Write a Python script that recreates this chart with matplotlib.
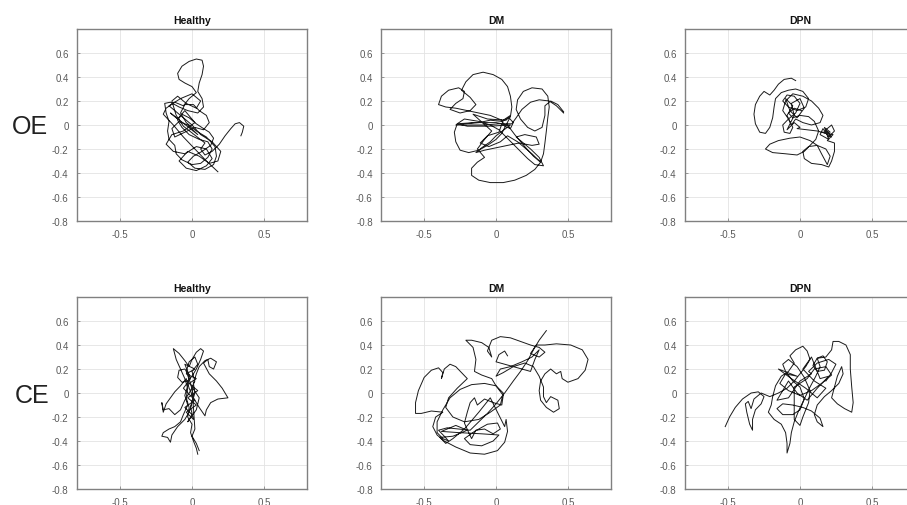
import matplotlib
matplotlib.use("Agg")
import matplotlib.pyplot as plt

plt.rcParams["font.family"] = ["Liberation Sans", "DejaVu Sans"]

groups = ["Healthy", "DM", "DPN"]
conditions = ["OE", "CE"]

x_ticks = [-0.5, 0, 0.5]
x_tick_labels = ["-0.5", "0", "0.5"]
y_ticks = [-0.8, -0.6, -0.4, -0.2, 0, 0.2, 0.4, 0.6]
y_tick_labels = ["-0.8", "-0.6", "-0.4", "-0.2", "0", "0.2", "0.4", "0.6"]

# Centre-of-pressure sway paths (x, y), eyes open
healthy_oe = [
    (0.18, -0.39), (0.10, -0.30), (0.02, -0.20), (-0.06, -0.10), (-0.13, 0.00), (-0.20, 0.09),
    (-0.18, 0.14), (-0.12, 0.19), (-0.06, 0.16), (-0.02, 0.22), (0.03, 0.27), (0.00, 0.32),
    (-0.05, 0.35), (-0.09, 0.38), (-0.10, 0.43), (-0.07, 0.49), (-0.02, 0.53), (0.03, 0.55),
    (0.07, 0.54), (0.08, 0.49), (0.07, 0.42), (0.05, 0.35), (0.04, 0.28), (0.07, 0.22),
    (0.08, 0.15), (0.04, 0.10), (-0.03, 0.12), (-0.09, 0.15), (-0.15, 0.19), (-0.19, 0.18),
    (-0.18, 0.10), (-0.16, 0.03), (-0.17, -0.05), (-0.16, -0.12), (-0.12, -0.17), (-0.11, -0.24),
    (-0.07, -0.29), (0.00, -0.33), (0.06, -0.32), (0.11, -0.27), (0.14, -0.20), (0.11, -0.14),
    (0.05, -0.12), (-0.02, -0.08), (-0.07, -0.02), (-0.10, 0.04), (-0.07, 0.09), (-0.02, 0.06),
    (0.03, 0.01), (0.08, -0.03), (0.12, -0.06), (0.15, -0.11), (0.13, -0.17), (0.07, -0.22),
    (0.01, -0.26), (-0.03, -0.31), (0.02, -0.36), (0.09, -0.37), (0.15, -0.33), (0.17, -0.26),
    (0.16, -0.18), (0.10, -0.10), (0.03, -0.05), (-0.04, 0.02), (-0.08, 0.10), (-0.05, 0.17),
    (0.01, 0.17), (0.05, 0.12), (0.10, 0.08), (0.12, 0.02), (0.08, -0.04), (0.02, -0.02),
    (-0.05, -0.06), (-0.12, -0.10), (-0.14, -0.03), (-0.09, 0.03), (-0.03, 0.00), (0.04, -0.08),
    (-0.15, 0.10), (-0.10, 0.05), (-0.05, 0.12), (0.02, 0.02), (-0.06, -0.05), (-0.14, -0.08),
    (-0.18, -0.16), (-0.13, -0.22), (-0.05, -0.24), (0.03, -0.18), (0.10, -0.20), (0.14, -0.28),
    (0.10, -0.34), (0.03, -0.38), (-0.04, -0.36), (-0.09, -0.30), (-0.03, -0.22), (0.05, -0.26),
    (0.12, -0.32), (0.18, -0.30), (0.20, -0.22), (0.14, -0.14), (0.06, -0.08), (0.00, 0.00),
    (-0.06, 0.06), (-0.12, 0.12), (-0.16, 0.16), (-0.08, 0.22), (0.00, 0.26), (0.06, 0.20),
    (0.03, 0.14), (-0.04, 0.18), (-0.10, 0.24), (-0.14, 0.20), (-0.11, 0.08), (-0.06, -0.01),
    (0.09, -0.15), (0.06, -0.20), (0.09, -0.25), (0.14, -0.22), (0.19, -0.16), (0.23, -0.09),
    (0.27, -0.03), (0.30, 0.01), (0.33, 0.02), (0.36, -0.01), (0.35, -0.06), (0.34, -0.09),
]

dm_oe = [
    (0.47, 0.10), (0.42, 0.16), (0.37, 0.20), (0.30, 0.21), (0.24, 0.19), (0.18, 0.13),
    (0.14, 0.06), (0.11, 0.01), (0.02, 0.01), (-0.08, 0.00), (-0.18, 0.00), (-0.28, 0.00),
    (-0.22, 0.01), (-0.12, 0.02), (-0.04, 0.04), (0.04, 0.03), (0.09, 0.06), (0.12, 0.02),
    (0.10, -0.03), (0.06, -0.01), (0.04, 0.04), (-0.04, 0.08), (-0.12, 0.10), (-0.20, 0.12),
    (-0.28, 0.14), (-0.35, 0.15), (-0.40, 0.17), (-0.38, 0.24), (-0.33, 0.29), (-0.26, 0.31),
    (-0.22, 0.28), (-0.23, 0.22), (-0.28, 0.18), (-0.32, 0.13), (-0.25, 0.10), (-0.18, 0.12),
    (-0.14, 0.17), (-0.18, 0.23), (-0.24, 0.29), (-0.21, 0.36), (-0.16, 0.42), (-0.09, 0.44),
    (-0.02, 0.42), (0.04, 0.38), (0.08, 0.32), (0.10, 0.24), (0.11, 0.15), (0.10, 0.07),
    (0.07, 0.00), (0.04, -0.07), (0.00, -0.12), (-0.06, -0.17), (-0.12, -0.21), (-0.19, -0.23),
    (-0.25, -0.21), (-0.28, -0.14), (-0.29, -0.06), (-0.27, 0.01), (-0.22, 0.05), (-0.12, 0.03),
    (-0.04, 0.00), (0.02, -0.04), (0.07, -0.10), (0.12, -0.16), (0.17, -0.22), (0.22, -0.28),
    (0.27, -0.33), (0.33, -0.34), (0.30, -0.27), (0.24, -0.20), (0.18, -0.14), (0.14, -0.10),
    (0.20, -0.08), (0.28, -0.10), (0.30, -0.16), (0.25, -0.17), (0.16, -0.15), (0.08, -0.17),
    (0.00, -0.19), (-0.08, -0.21), (-0.14, -0.23), (-0.10, -0.19), (-0.04, -0.14), (0.00, -0.09),
    (0.10, 0.00), (-0.05, -0.01), (-0.20, -0.01), (-0.27, 0.01), (-0.15, 0.02), (0.00, 0.02),
    (0.08, 0.00), (0.13, -0.08), (0.20, -0.18), (0.26, -0.26), (0.31, -0.31), (0.25, -0.24),
    (0.15, -0.14), (0.08, -0.09), (0.03, -0.14), (-0.05, -0.18), (-0.11, -0.15), (-0.06, -0.09),
    (0.02, -0.06), (0.05, 0.04), (0.10, 0.08), (0.07, 0.04), (-0.06, 0.05), (-0.16, 0.09),
    (-0.03, -0.05), (-0.08, -0.12), (-0.13, -0.20), (-0.08, -0.27), (-0.13, -0.31), (-0.17, -0.36),
    (-0.17, -0.42), (-0.12, -0.46), (-0.04, -0.48), (0.05, -0.48), (0.13, -0.46), (0.21, -0.42),
    (0.27, -0.37), (0.31, -0.31), (0.33, -0.24), (0.34, -0.15), (0.35, -0.05), (0.36, 0.06),
    (0.37, 0.15), (0.36, 0.24), (0.32, 0.30), (0.25, 0.31), (0.19, 0.28), (0.15, 0.21),
    (0.14, 0.13), (0.17, 0.05), (0.22, -0.02), (0.27, -0.05), (0.32, -0.02), (0.34, 0.08),
    (0.34, 0.16), (0.38, 0.20), (0.43, 0.17), (0.47, 0.11),
]

dpn_oe = [
    (-0.03, 0.37), (-0.06, 0.39), (-0.11, 0.38), (-0.15, 0.34), (-0.18, 0.29), (-0.21, 0.25),
    (-0.25, 0.28), (-0.28, 0.24), (-0.31, 0.17), (-0.32, 0.09), (-0.31, 0.01), (-0.28, -0.06),
    (-0.24, -0.07), (-0.21, -0.02), (-0.19, 0.06), (-0.18, 0.15), (-0.17, 0.22), (-0.13, 0.27),
    (-0.08, 0.29), (-0.03, 0.30), (0.02, 0.28), (0.06, 0.22), (0.04, 0.15), (-0.02, 0.12),
    (-0.08, 0.15), (-0.12, 0.20), (-0.09, 0.25), (-0.04, 0.24), (0.00, 0.18), (-0.03, 0.10),
    (-0.08, 0.05), (-0.12, 0.00), (-0.11, -0.06), (-0.07, -0.07), (-0.05, -0.02), (-0.08, 0.05),
    (-0.12, 0.12), (-0.10, 0.20), (-0.05, 0.26), (0.02, 0.24), (0.08, 0.20), (0.13, 0.14),
    (0.16, 0.08), (0.14, 0.02), (0.08, 0.00), (0.02, 0.02), (-0.03, 0.05), (-0.06, 0.00),
    (-0.09, 0.08), (-0.05, 0.16), (-0.10, 0.22), (-0.07, 0.12), (-0.02, 0.06), (0.03, 0.14),
    (0.00, 0.22), (-0.06, 0.18), (-0.04, 0.08), (-0.09, -0.04), (-0.04, 0.02), (0.00, -0.02),
    (-0.02, -0.03), (0.05, -0.04), (0.12, -0.05), (0.18, -0.07), (0.22, -0.10), (0.18, -0.04),
    (0.22, 0.00), (0.24, -0.05), (0.20, -0.10), (0.16, -0.03), (0.14, -0.08), (0.20, -0.12),
    (0.17, -0.02), (0.21, -0.06), (0.15, -0.06), (0.23, -0.08), (0.19, -0.13),
    (0.24, -0.15), (0.24, -0.22), (0.22, -0.30), (0.20, -0.35), (0.15, -0.33), (0.08, -0.32),
    (0.03, -0.28), (0.02, -0.22), (0.06, -0.18), (0.12, -0.17), (0.18, -0.20), (0.21, -0.26),
    (0.19, -0.33), (0.15, -0.24), (0.12, -0.17), (0.07, -0.13), (0.00, -0.10), (-0.07, -0.11),
    (-0.15, -0.13), (-0.21, -0.16), (-0.24, -0.20), (-0.19, -0.23), (-0.10, -0.24), (-0.02, -0.25),
    (0.03, -0.22), (0.07, -0.17), (0.11, -0.12), (0.13, -0.05), (0.10, 0.03), (0.06, 0.07),
    (0.00, 0.08), (-0.05, 0.06), (-0.08, 0.10), (-0.04, 0.14), (0.01, 0.12),
]

# Centre-of-pressure sway paths (x, y), eyes closed
healthy_ce = [
    (0.04, -0.51), (0.03, -0.46), (0.01, -0.40), (-0.01, -0.33), (0.00, -0.26), (-0.03, -0.20),
    (-0.02, -0.12), (-0.04, -0.04), (-0.03, 0.04), (-0.05, 0.12), (-0.08, 0.20), (-0.11, 0.28),
    (-0.13, 0.37), (-0.09, 0.33), (-0.05, 0.27), (-0.02, 0.22), (0.00, 0.28), (0.03, 0.34),
    (0.06, 0.37), (0.08, 0.35), (0.06, 0.28), (0.03, 0.20), (0.00, 0.14), (-0.03, 0.10),
    (-0.07, 0.09), (-0.10, 0.13), (-0.09, 0.19), (-0.05, 0.20), (-0.02, 0.15), (-0.03, 0.06),
    (-0.05, -0.02), (-0.03, -0.10), (-0.06, -0.18), (-0.08, -0.24), (-0.12, -0.28), (-0.16, -0.30),
    (-0.20, -0.33), (-0.21, -0.36), (-0.17, -0.37), (-0.15, -0.41), (-0.14, -0.35), (-0.10, -0.28),
    (-0.05, -0.22), (-0.02, -0.16), (0.00, -0.08), (0.02, 0.00), (0.01, 0.08), (0.03, 0.16),
    (0.05, 0.22), (0.09, 0.27), (0.13, 0.29), (0.17, 0.26), (0.15, 0.20), (0.12, 0.22),
    (0.11, 0.28), (0.08, 0.25), (0.12, 0.16), (0.17, 0.10), (0.21, 0.04), (0.25, -0.04),
    (0.18, -0.05), (0.13, -0.08), (0.10, -0.14), (0.09, -0.19), (0.05, -0.12), (0.01, -0.04),
    (-0.02, 0.04), (-0.04, 0.12), (-0.08, 0.06), (-0.12, 0.01), (-0.15, -0.04), (-0.18, -0.09),
    (-0.20, -0.16), (-0.21, -0.08), (-0.20, -0.14), (-0.16, -0.13), (-0.12, -0.18), (-0.08, -0.14),
    (-0.05, -0.06), (-0.01, 0.02), (0.02, 0.10), (0.00, 0.18), (0.04, 0.24), (0.02, 0.30),
    (-0.02, 0.26), (-0.04, 0.18), (-0.01, 0.08), (0.01, -0.02), (-0.01, -0.12), (0.01, -0.22),
    (-0.04, -0.16), (0.03, -0.10), (-0.03, -0.04), (0.04, 0.02), (-0.02, 0.08), (0.03, 0.12),
    (-0.04, 0.16), (0.02, 0.20), (-0.05, 0.24), (-0.01, 0.12), (-0.06, 0.04), (0.02, -0.06),
    (-0.05, -0.12), (0.00, -0.18), (-0.03, -0.24), (0.03, -0.14), (0.05, -0.04), (0.00, 0.05),
    (0.02, -0.30), (0.00, -0.36), (0.03, -0.42), (0.05, -0.48),
]

dm_ce = [
    (0.35, 0.52), (0.30, 0.44), (0.26, 0.36), (0.22, 0.27), (0.17, 0.18), (0.12, 0.10),
    (0.06, 0.00), (0.00, -0.09), (-0.06, -0.17), (-0.12, -0.24), (-0.18, -0.31), (-0.26, -0.30),
    (-0.34, -0.29), (-0.40, -0.31), (-0.36, -0.36), (-0.33, -0.40), (-0.37, -0.38), (-0.41, -0.33),
    (-0.41, -0.24), (-0.37, -0.14), (-0.32, -0.04), (-0.25, 0.03), (-0.17, 0.07), (-0.08, 0.08),
    (0.00, 0.06), (0.05, -0.02), (0.04, -0.10), (-0.02, -0.08), (-0.08, -0.05), (-0.13, -0.10),
    (-0.15, -0.04), (-0.18, -0.08), (-0.20, -0.16), (-0.22, -0.25), (-0.19, -0.33), (-0.17, -0.38),
    (-0.14, -0.31), (-0.08, -0.30), (-0.02, -0.34), (0.03, -0.30), (0.01, -0.25), (-0.06, -0.26),
    (-0.15, -0.32), (-0.22, -0.38), (-0.18, -0.43), (-0.10, -0.44), (-0.02, -0.40), (0.02, -0.35),
    (-0.10, -0.34), (-0.26, -0.33), (-0.38, -0.32), (-0.28, -0.27), (-0.20, -0.31), (-0.30, -0.36),
    (-0.39, -0.37), (-0.35, -0.42), (-0.30, -0.38), (-0.22, -0.30), (-0.12, -0.16), (-0.04, -0.04),
    (0.06, -0.28), (0.07, -0.22), (0.08, -0.32), (0.06, -0.41), (0.01, -0.48), (-0.08, -0.51),
    (-0.18, -0.50), (-0.28, -0.45), (-0.36, -0.40), (-0.41, -0.35), (-0.44, -0.28), (-0.42, -0.20),
    (-0.37, -0.16), (-0.45, -0.15), (-0.52, -0.17), (-0.56, -0.17), (-0.56, -0.08), (-0.54, 0.02),
    (-0.50, 0.13), (-0.45, 0.19), (-0.40, 0.21), (-0.37, 0.17), (-0.38, 0.12), (-0.36, 0.20),
    (-0.32, 0.24), (-0.28, 0.22), (-0.24, 0.17), (-0.20, 0.12), (-0.27, 0.04), (-0.33, -0.04),
    (-0.35, -0.12), (-0.30, -0.20), (-0.22, -0.24), (-0.12, -0.22), (-0.04, -0.16), (0.03, -0.10),
    (0.05, 0.00), (0.00, 0.06), (-0.03, 0.12), (-0.10, 0.15), (-0.15, 0.18), (-0.14, 0.28),
    (-0.16, 0.38), (-0.21, 0.44), (-0.17, 0.44), (-0.10, 0.42), (-0.05, 0.38), (-0.03, 0.30),
    (-0.06, 0.35), (-0.03, 0.44), (0.03, 0.47), (0.10, 0.46), (0.17, 0.43), (0.24, 0.40),
    (0.30, 0.38), (0.34, 0.34), (0.30, 0.30), (0.24, 0.33), (0.28, 0.40), (0.34, 0.40),
    (0.42, 0.41), (0.52, 0.40), (0.60, 0.36), (0.64, 0.28), (0.62, 0.19), (0.57, 0.12),
    (0.50, 0.09), (0.46, 0.12), (0.45, 0.18), (0.42, 0.16), (0.38, 0.20), (0.34, 0.16),
    (0.31, 0.10), (0.30, 0.02), (0.31, -0.06), (0.35, -0.12), (0.40, -0.16), (0.44, -0.13),
    (0.43, -0.06), (0.38, -0.03), (0.35, -0.08), (0.33, -0.03), (0.33, 0.05), (0.30, 0.14),
    (0.26, 0.22), (0.20, 0.25), (0.12, 0.22), (0.05, 0.17), (0.00, 0.14), (0.03, 0.20),
    (0.10, 0.22), (0.18, 0.26), (0.25, 0.30), (0.30, 0.36), (0.27, 0.28), (0.24, 0.18),
    (0.00, 0.26), (0.02, 0.32), (0.06, 0.35), (0.08, 0.31),
]

dpn_ce = [
    (-0.52, -0.28), (-0.49, -0.20), (-0.45, -0.12), (-0.40, -0.05), (-0.34, 0.00), (-0.29, 0.01),
    (-0.25, -0.03), (-0.27, -0.09), (-0.31, -0.14), (-0.33, -0.22), (-0.33, -0.31), (-0.35, -0.26),
    (-0.37, -0.16), (-0.38, -0.09), (-0.36, -0.07), (-0.34, -0.13), (-0.32, -0.05), (-0.27, 0.00),
    (-0.21, -0.03), (-0.15, 0.00), (-0.09, 0.04), (-0.04, 0.10), (0.00, 0.16), (0.04, 0.22),
    (0.07, 0.28), (0.05, 0.35), (0.02, 0.39), (-0.03, 0.36), (-0.07, 0.31), (-0.04, 0.25),
    (-0.08, 0.18), (-0.13, 0.14), (-0.17, 0.06), (-0.19, -0.03), (-0.20, -0.10), (-0.22, -0.16),
    (-0.18, -0.22), (-0.13, -0.26), (-0.10, -0.33), (-0.09, -0.42), (-0.09, -0.50), (-0.07, -0.42),
    (-0.06, -0.33), (-0.04, -0.24), (-0.01, -0.15), (0.03, -0.05), (0.07, 0.05), (0.11, 0.14),
    (0.14, 0.22), (0.12, 0.29), (0.16, 0.31), (0.19, 0.26), (0.17, 0.19), (0.12, 0.18),
    (0.09, 0.23), (0.12, 0.29), (0.18, 0.30), (0.22, 0.36), (0.23, 0.43), (0.27, 0.43),
    (0.32, 0.40), (0.35, 0.32), (0.35, 0.20), (0.36, 0.05), (0.37, -0.08), (0.36, -0.16),
    (0.31, -0.13), (0.26, -0.09), (0.22, -0.04), (0.24, 0.05), (0.26, 0.14), (0.29, 0.22),
    (0.30, 0.16), (0.27, 0.08), (0.22, 0.02), (0.17, -0.03), (0.12, -0.10), (0.10, -0.18),
    (0.12, -0.24), (0.16, -0.28), (0.14, -0.21), (0.08, -0.15), (0.02, -0.12), (-0.05, -0.10),
    (-0.12, -0.09), (-0.16, -0.13), (-0.12, -0.18), (-0.05, -0.18), (0.00, -0.14), (0.03, -0.05),
    (0.00, 0.05), (-0.05, 0.10), (-0.10, 0.18), (-0.12, 0.24), (-0.08, 0.28), (-0.02, 0.22),
    (0.03, 0.13), (0.07, 0.02), (0.06, -0.08), (0.02, -0.20), (0.00, -0.27), (-0.04, -0.22),
    (-0.04, 0.05), (0.05, 0.12), (0.10, 0.20), (0.18, 0.22), (0.22, 0.15), (0.15, 0.08),
    (0.08, 0.02), (0.00, -0.02), (-0.08, 0.02), (-0.14, 0.08), (-0.10, 0.16), (-0.02, 0.14),
    (-0.15, 0.20), (-0.06, 0.12), (0.04, 0.04), (0.12, -0.04), (0.18, 0.04), (0.10, 0.10),
    (0.02, 0.20), (0.08, 0.30), (0.14, 0.12), (0.20, 0.14), (0.12, 0.04), (0.05, -0.06),
    (-0.02, 0.00), (-0.08, 0.10), (-0.16, -0.06), (-0.08, -0.04), (0.00, 0.10), (0.08, 0.16),
    (0.06, 0.18), (0.12, 0.25), (0.20, 0.28), (0.25, 0.24), (0.22, 0.17), (0.18, 0.10),
]

paths = {
    ("OE", "Healthy"): healthy_oe, ("OE", "DM"): dm_oe, ("OE", "DPN"): dpn_oe,
    ("CE", "Healthy"): healthy_ce, ("CE", "DM"): dm_ce, ("CE", "DPN"): dpn_ce,
}

fig = plt.figure(figsize=(9.07, 5.06), dpi=100)
fig.patch.set_facecolor("white")

col_left = [0.0849, 0.4201, 0.7552]
row_bottom = {"OE": 0.5613, "CE": 0.0316}
ax_w, ax_h = 0.2536, 0.3794

for cond in conditions:
    for gi, grp in enumerate(groups):
        ax = fig.add_axes([col_left[gi], row_bottom[cond], ax_w, ax_h])
        pts = paths[(cond, grp)]
        xs = [p[0] for p in pts]
        ys = [p[1] for p in pts]
        ax.plot(xs, ys, color="#1a1a1a", lw=0.7, solid_joinstyle="round")
        ax.set_xlim(-0.8, 0.8)
        ax.set_ylim(-0.8, 0.8)
        ax.set_xticks(x_ticks)
        ax.set_xticklabels(x_tick_labels)
        ax.set_yticks(y_ticks)
        ax.set_yticklabels(y_tick_labels)
        ax.grid(True, color="#e3e3e3", lw=0.6)
        ax.set_axisbelow(True)
        ax.tick_params(direction="in", length=2.5, width=0.6, colors="#888888",
                       labelcolor="#5a5a5a", labelsize=7, pad=6)
        for sp in ax.spines.values():
            sp.set_color("#808080")
            sp.set_linewidth(1.0)
        ax.set_title(grp, fontsize=7.5, fontweight="bold", color="#111111", pad=4)

fig.text(0.033, 0.749, "OE", fontsize=18, ha="center", va="center", color="#222222")
fig.text(0.035, 0.217, "CE", fontsize=18, ha="center", va="center", color="#222222")

fig.savefig("out.png", dpi=100)
